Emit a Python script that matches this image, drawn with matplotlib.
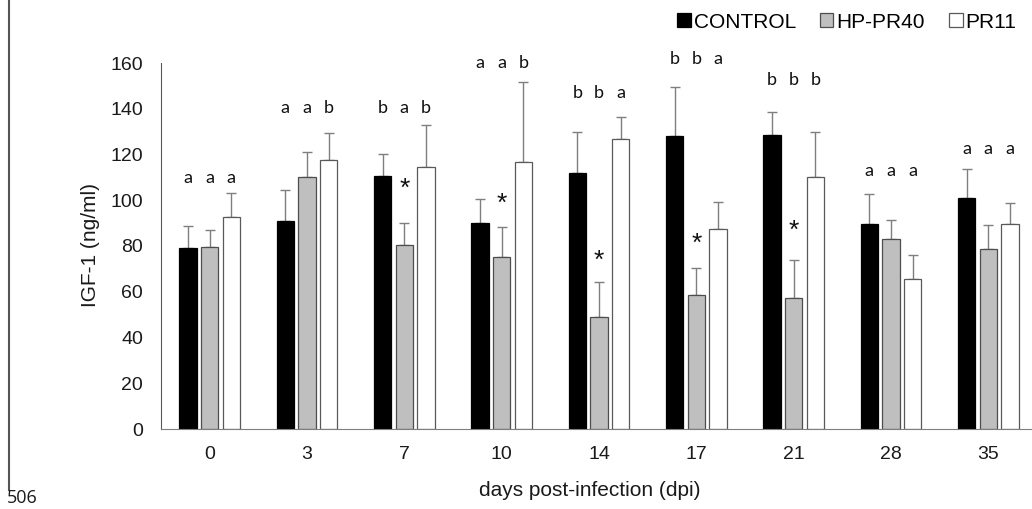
import matplotlib
matplotlib.use("Agg")
import matplotlib.pyplot as plt
import numpy as np

# data
days = ["0", "3", "7", "10", "14", "17", "21", "28", "35"]
groups = ["CONTROL", "HP-PR40", "PR11"]

control = [79.0, 91.0, 110.6, 90.0, 112.0, 128.2, 128.7, 89.6, 100.9]
hp_pr40 = [79.4, 110.0, 80.4, 75.0, 49.1, 58.6, 57.1, 83.0, 78.8]
pr11 = [92.5, 117.5, 114.7, 116.9, 126.8, 87.3, 110.2, 65.4, 89.6]

control_err = [9.7, 13.5, 9.5, 10.4, 17.7, 21.4, 9.7, 13.1, 12.6]
hp_pr40_err = [7.6, 11.2, 9.6, 13.2, 15.2, 11.9, 16.8, 8.4, 10.2]
pr11_err = [10.5, 11.8, 18.2, 34.9, 9.7, 11.8, 19.5, 10.5, 9.0]

# significance letters and the height of each row
letters = [["a", "a", "a"], ["a", "a", "b"], ["b", "a", "b"], ["a", "a", "b"],
           ["b", "b", "a"], ["b", "b", "a"], ["b", "b", "b"], ["a", "a", "a"],
           ["a", "a", "a"]]
letter_y = [109.7, 140.0, 140.0, 160.0, 146.7, 161.7, 152.6, 112.5, 122.4]

# asterisks over HP-PR40 bars
star_idx = [2, 3, 4, 5, 6]
star_y = [107.7, 101.3, 76.0, 83.8, 89.2]

W, H = 1032, 509
fig = plt.figure(figsize=(W / 100, H / 100), dpi=100)
plt.rcParams['font.family'] = ['Liberation Sans', 'DejaVu Sans']

ax = fig.add_axes([161 / W, (H - 429) / H, 876 / W, 366 / H])

x = np.arange(len(days))
bw = 0.18
step = 0.223
series = [control, hp_pr40, pr11]
errs = [control_err, hp_pr40_err, pr11_err]
fills = ["black", "#bfbfbf", "white"]
edges = ["black", "#4d4d4d", "#595959"]

for j in range(3):
    pos = x + (j - 1) * step
    ax.bar(pos, series[j], bw, color=fills[j], edgecolor=edges[j],
           linewidth=0.9, label=groups[j], zorder=2)
    ax.errorbar(pos, series[j], yerr=[np.zeros(len(days)), errs[j]],
                fmt="none", ecolor="#7f7f7f", elinewidth=1.0, capsize=3.6,
                capthick=1.0, zorder=1)
    for i in range(len(days)):
        ax.annotate(letters[i][j], (pos[i], letter_y[i]), xytext=(0, -3.4),
                    textcoords="offset points", ha="center", va="baseline",
                    fontsize=13, family="Lato", color="#111111",
                    annotation_clip=False)

for i, y in zip(star_idx, star_y):
    ax.annotate("*", (x[i], y), xytext=(0, -9.5), textcoords="offset points",
                ha="center", va="baseline", fontsize=19, color="#111111",
                annotation_clip=False)

ax.set_xlim(-0.5, 8.5)
ax.set_ylim(0, 160)
ax.set_yticks(range(0, 161, 20))
ax.set_xticks(x)
ax.set_xticklabels(days)
ax.tick_params(length=0, labelsize=14, colors="#1a1a1a")
ax.tick_params(axis="y", pad=13)
ax.tick_params(axis="x", pad=12)
for s in ["top", "right"]:
    ax.spines[s].set_visible(False)
ax.spines["left"].set_color("#595959")
ax.spines["bottom"].set_color("#7f7f7f")
ax.set_facecolor("none")

fig.text(590 / W, (H - 491) / H, "days post-infection (dpi)", ha="center",
         va="center", fontsize=15, color="#1a1a1a")
fig.text(90 / W, (H - 245) / H, "IGF-1 (ng/ml)", ha="center", va="center",
         rotation=90, fontsize=15, color="#1a1a1a")

fig.legend(loc="upper right", bbox_to_anchor=(1029 / W, 1.0), ncol=3,
           frameon=False, fontsize=15, handlelength=0.65, handleheight=0.65,
           handletextpad=0.15, columnspacing=1.15, borderaxespad=0.2)

# page border line and line number from the source document
fig.add_artist(plt.Line2D([9 / W, 9 / W], [(H - 490) / H, 1.0],
                          color="#555555", linewidth=1.5))
fig.text(7 / W, (H - 503) / H, "506", ha="left", va="baseline", fontsize=13,
         family="Open Sans", color="#1a1a1a")

plt.savefig("out.png", dpi=100)
